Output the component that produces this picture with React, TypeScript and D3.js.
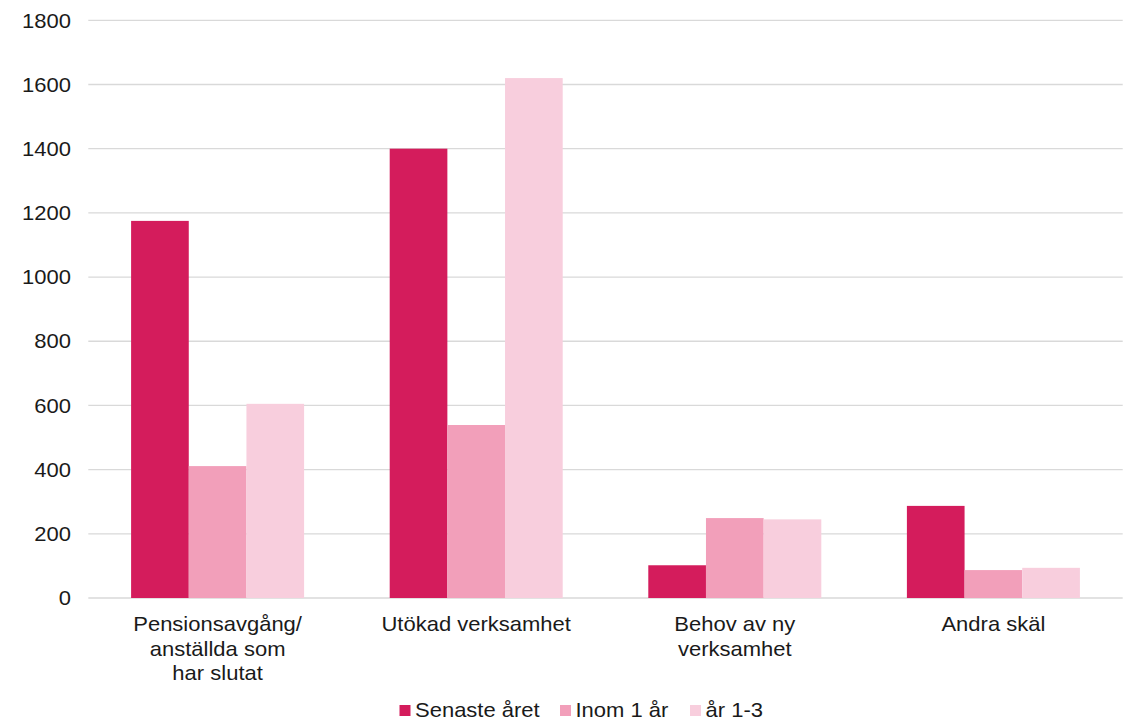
import React from "react";
import * as d3 from "d3";

// Categories (each entry split into the lines it is printed on)
const categories: string[][] = [
  ["Pensionsavgång/", "anställda som", "har slutat"],
  ["Utökad verksamhet"],
  ["Behov av ny", "verksamhet"],
  ["Andra skäl"],
];

const seriesNames: string[] = ["Senaste året", "Inom 1 år", "år 1-3"];
const seriesColors: string[] = ["#D41C5C", "#F29FBA", "#F8CEDD"];

// Values per series, in category order
const senasteAret: number[] = [1175, 1400, 102, 287];
const inom1Ar: number[] = [411, 539, 249, 87];
const ar1Till3: number[] = [605, 1620, 245, 94];

const yTicks: number[] = [0, 200, 400, 600, 800, 1000, 1200, 1400, 1600, 1800];

const WIDTH = 1130;
const HEIGHT = 721;
const FONT = "'Liberation Sans', Arial, sans-serif";
const FS = 20;
const SX = 1.1; // slightly wide lettering

function Label(props: {
  x: number;
  y: number;
  anchor?: "start" | "middle" | "end";
  children: React.ReactNode;
}) {
  return (
    <text
      transform={`translate(${props.x},${props.y}) scale(${SX},1)`}
      textAnchor={props.anchor ?? "start"}
      fontSize={FS}
      fill="#1a1a1a"
    >
      {props.children}
    </text>
  );
}

export default function App() {
  const left = 88.3;
  const right = 1122.7;
  const top = 20.3;
  const bottom = 598;

  const seriesValues = [senasteAret, inom1Ar, ar1Till3];
  const catKeys = categories.map((c) => c.join(" "));

  const x0 = d3
    .scaleBand<string>()
    .domain(catKeys)
    .range([left, right])
    .paddingInner(0.331)
    .paddingOuter(0.1655);

  const x1 = d3
    .scaleBand<string>()
    .domain(seriesNames)
    .range([0, x0.bandwidth()])
    .padding(0);

  const y = d3.scaleLinear().domain([0, 1800]).range([bottom, top]);

  const legendItems = [
    { name: seriesNames[0], x: 399.5 },
    { name: seriesNames[1], x: 560 },
    { name: seriesNames[2], x: 690 },
  ];

  return (
    <svg
      width={WIDTH}
      height={HEIGHT}
      style={{ position: "absolute", left: 0, top: 0, background: "#fff" }}
      fontFamily={FONT}
    >
      {/* horizontal gridlines */}
      {yTicks.map((t) => (
        <line
          key={`g${t}`}
          x1={left}
          x2={right}
          y1={y(t)}
          y2={y(t)}
          stroke="#D9D9D9"
          strokeWidth={1.3}
        />
      ))}

      {/* y tick labels */}
      {yTicks.map((t) => (
        <Label key={`t${t}`} x={71} y={y(t) + 7.2} anchor="end">
          {t}
        </Label>
      ))}

      {/* bars */}
      {catKeys.map((c, ci) => (
        <g key={c} transform={`translate(${x0(c)},0)`}>
          {seriesNames.map((s, si) => {
            const v = seriesValues[si][ci];
            return (
              <rect
                key={s}
                x={x1(s)}
                y={y(v)}
                width={x1.bandwidth()}
                height={y(0) - y(v)}
                fill={seriesColors[si]}
              />
            );
          })}
        </g>
      ))}

      {/* category labels */}
      {categories.map((lines, ci) => {
        const cx = (x0(catKeys[ci]) as number) + x0.bandwidth() / 2;
        return (
          <g key={catKeys[ci]}>
            {lines.map((ln, li) => (
              <Label key={li} x={cx} y={631 + li * 24.5} anchor="middle">
                {ln}
              </Label>
            ))}
          </g>
        );
      })}

      {/* legend */}
      {legendItems.map((it, i) => (
        <g key={it.name}>
          <rect x={it.x} y={705} width={11} height={11} fill={seriesColors[i]} />
          <Label x={it.x + 15.5} y={716.5}>
            {it.name}
          </Label>
        </g>
      ))}
    </svg>
  );
}
